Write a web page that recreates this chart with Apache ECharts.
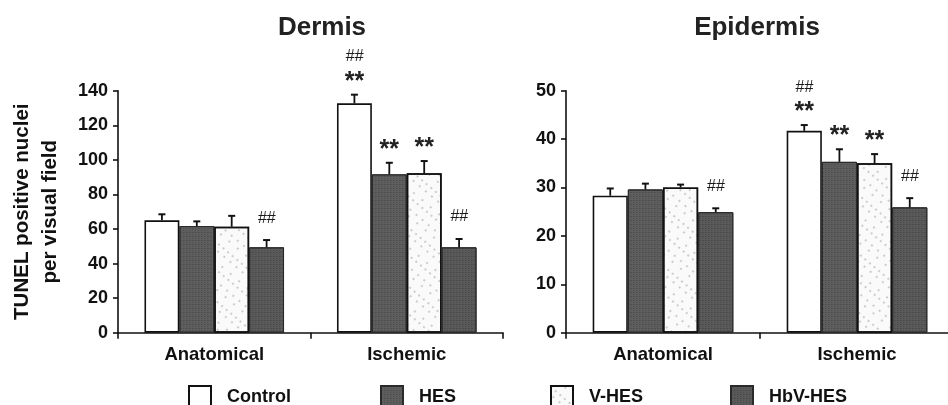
<!DOCTYPE html>
<html>
<head>
<meta charset="utf-8">
<script src="https://cdn.jsdelivr.net/npm/echarts@6/dist/echarts.min.js"></script>
<style>
html, body { margin: 0; padding: 0; background: #fff; }
#main { width: 948px; height: 405px; }
</style>
</head>
<body>
<div id="main"></div>
<script>
const categories = ['Anatomical', 'Ischemic'];
const groups = ['Control', 'HES', 'V-HES', 'HbV-HES'];

// per group: [Anatomical, Ischemic]
const dermisMean = [[65, 132.7], [61.7, 91.6], [61.3, 92.2], [49.4, 49.4]];
const dermisErr = [[3.5, 5], [2.7, 6.7], [6.3, 7.1], [4.2, 4.8]];
const dermisMarks = [[[], ['##', '**']], [[], ['**']], [[], ['**']], [['##'], ['##']]];

const epiMean = [[28.3, 41.7], [29.6, 35.3], [30.0, 35.0], [24.9, 25.9]];
const epiErr = [[1.5, 1.2], [1.2, 2.6], [0.6, 1.9], [0.8, 1.9]];
const epiMarks = [[[], ['##', '**']], [[], ['**']], [[], ['**']], [['##'], ['##']]];

// y ticks: [min, max, interval]
const dermisTicks = [0, 140, 20];
const epiTicks = [0, 50, 10];

const FONT = '"Liberation Sans", Arial, sans-serif';
const GAP = 0.275;

const darkDecal = { symbol: 'rect', symbolSize: 0.7, color: 'rgba(20,20,20,0.55)', dashArrayX: [[1, 2], [2, 1]], dashArrayY: [1, 1], rotation: 0 };

const barStyles = [
  { color: '#ffffff', borderColor: '#111', borderWidth: 1.6 },
  { color: '#5e5e5e', borderColor: '#2a2a2a', borderWidth: 1, decal: darkDecal },
  { color: '#fafafa', borderColor: '#111', borderWidth: 1.5,
    decal: { symbol: 'rect', symbolSize: 0.6, color: 'rgba(50,50,50,0.75)', dashArrayX: [[2, 6], [2, 9], [2, 4]], dashArrayY: [2, 4, 2, 7], rotation: 0.7 } },
  { color: '#5a5a5a', borderColor: '#2a2a2a', borderWidth: 1, decal: darkDecal }
];

function barSeries(mean, gi, ai) {
  return {
    name: groups[gi],
    type: 'bar',
    xAxisIndex: ai,
    yAxisIndex: ai,
    barGap: '0%',
    barCategoryGap: (GAP * 100) + '%',
    itemStyle: barStyles[gi],
    emphasis: { disabled: true },
    data: mean[gi]
  };
}

function errSeries(mean, err, marks, gi, ai) {
  return {
    type: 'custom',
    xAxisIndex: ai,
    yAxisIndex: ai,
    z: 5,
    silent: true,
    data: categories.map((c, ci) => [ci, mean[gi][ci], err[gi][ci]]),
    renderItem: function (params, api) {
      const ci = api.value(0);
      const base = api.coord([ci, api.value(1)]);
      const top = api.coord([ci, api.value(1) + api.value(2)]);
      const band = api.size([1, 0])[0];
      const bw = band * (1 - GAP) / 4;
      const x = base[0] + (gi - 1.5) * bw;
      const children = [
        { type: 'line', shape: { x1: x, y1: base[1], x2: x, y2: top[1] }, style: { stroke: '#111', lineWidth: 1.8 } },
        { type: 'line', shape: { x1: x - 3.5, y1: top[1], x2: x + 3.5, y2: top[1] }, style: { stroke: '#111', lineWidth: 2 } }
      ];
      const m = marks[gi][ci];
      if (m.length) {
        const txt = m.map(s => (s === '##' ? '{h|##}' : '{s|**}')).join('\n');
        children.push({
          type: 'text',
          x: x,
          y: top[1] - 9,
          style: {
            text: txt,
            align: 'center',
            verticalAlign: 'bottom',
            rich: {
              h: { fontFamily: FONT, fontSize: 16, lineHeight: 26, fill: '#1a1a1a', fontStyle: 'italic' },
              s: { fontFamily: FONT, fontSize: 25, fontWeight: 'bold', lineHeight: 16, fill: '#222', padding: [8, 0, 0, 0] }
            }
          }
        });
      }
      return { type: 'group', children: children };
    }
  };
}

function yAxis(ticks, gi, name) {
  return {
    type: 'value',
    gridIndex: gi,
    min: ticks[0],
    max: ticks[1],
    interval: ticks[2],
    name: name,
    nameLocation: 'middle',
    nameGap: 54,
    nameRotate: 90,
    nameTextStyle: { fontFamily: FONT, fontSize: 20.5, fontWeight: 'bold', color: '#111', lineHeight: 28 },
    axisLine: { show: true, lineStyle: { color: '#111', width: 1.6 } },
    axisTick: { show: true, length: 5, lineStyle: { color: '#111', width: 1.6 } },
    splitLine: { show: false },
    axisLabel: { fontFamily: FONT, fontSize: 18, fontWeight: 'bold', color: '#111', margin: 10 }
  };
}

function xAxis(gi) {
  return {
    type: 'category',
    gridIndex: gi,
    data: categories,
    axisLine: { show: true, lineStyle: { color: '#111', width: 1.6 } },
    axisTick: { show: true, length: 6, lineStyle: { color: '#111', width: 1.6 } },
    axisLabel: { fontFamily: FONT, fontSize: 18.5, fontWeight: 'bold', color: '#111', margin: 13 }
  };
}

const legendLeft = [188, 380, 550, 730];

const chart = echarts.init(document.getElementById('main'));
const series = [];
for (let g = 0; g < 4; g++) series.push(barSeries(dermisMean, g, 0));
for (let g = 0; g < 4; g++) series.push(barSeries(epiMean, g, 1));
for (let g = 0; g < 4; g++) series.push(errSeries(dermisMean, dermisErr, dermisMarks, g, 0));
for (let g = 0; g < 4; g++) series.push(errSeries(epiMean, epiErr, epiMarks, g, 1));

chart.setOption({
  animation: false,
  backgroundColor: '#fff',
  graphic: [
    { type: 'text', x: 322, y: 28, style: { text: 'Dermis', fontFamily: FONT, fontSize: 26, fontWeight: 'bold', fill: '#222', align: 'center', verticalAlign: 'middle' } },
    { type: 'text', x: 757, y: 28, style: { text: 'Epidermis', fontFamily: FONT, fontSize: 26, fontWeight: 'bold', fill: '#222', align: 'center', verticalAlign: 'middle' } }
  ],
  legend: groups.map((g, i) => ({
    data: [g],
    left: legendLeft[i],
    top: 385,
    padding: 0,
    icon: 'rect',
    itemWidth: 22,
    itemHeight: 22,
    selectedMode: false,
    textStyle: { fontFamily: FONT, fontSize: 18, fontWeight: 'bold', color: '#111', padding: [0, 0, 0, 11] }
  })),
  grid: [
    { left: 118, top: 90.7, width: 385, height: 242, outerBoundsMode: 'none', containLabel: false },
    { left: 566, top: 90.7, width: 388, height: 242, outerBoundsMode: 'none', containLabel: false }
  ],
  xAxis: [xAxis(0), xAxis(1)],
  yAxis: [yAxis(dermisTicks, 0, 'TUNEL positive nuclei\nper visual field'), yAxis(epiTicks, 1, '')],
  series: series
});
</script>
</body>
</html>
